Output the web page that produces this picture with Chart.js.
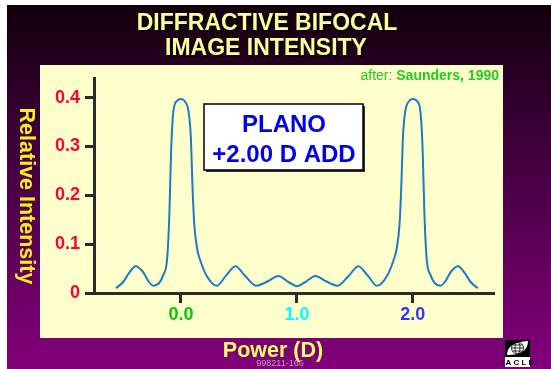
<!DOCTYPE html>
<html>
<head>
<meta charset="utf-8">
<script src="https://cdn.jsdelivr.net/npm/chart.js@4/dist/chart.umd.min.js"></script>
<style>
html,body{margin:0;padding:0;background:#fff;}
#c{display:block;}
</style>
</head>
<body>
<canvas id="c" width="551" height="369"></canvas>
<script>
// ---- data ----
const powerD = [-0.56,-0.50,-0.45,-0.39,-0.33,-0.28,-0.24,-0.19,-0.15,-0.12,-0.10,-0.085,-0.065,-0.035,0.0,0.035,0.065,0.085,0.10,0.115,0.14,0.165,0.22,0.31,0.39,0.47,0.55,0.65,0.75,0.84,0.93,1.0,1.07,1.16,1.25,1.35,1.45,1.53,1.61,1.69,1.78,1.835,1.86,1.885,1.90,1.915,1.935,1.965,2.0,2.035,2.065,2.085,2.10,2.12,2.15,2.19,2.24,2.28,2.33,2.39,2.45,2.50,2.56];
const relIntensity = [0.010,0.022,0.040,0.055,0.044,0.024,0.015,0.020,0.038,0.068,0.160,0.290,0.372,0.393,0.397,0.392,0.372,0.320,0.215,0.140,0.090,0.068,0.036,0.015,0.036,0.055,0.036,0.015,0.024,0.035,0.022,0.014,0.022,0.035,0.024,0.015,0.036,0.055,0.036,0.015,0.036,0.068,0.090,0.140,0.215,0.320,0.372,0.392,0.397,0.393,0.372,0.290,0.160,0.068,0.038,0.020,0.015,0.024,0.044,0.055,0.040,0.022,0.010];
const xTickValues = [0, 1, 2];
const xTickLabels = ['0.0', '1.0', '2.0'];
const yTickValues = [0, 0.1, 0.2, 0.3, 0.4];
const yTickLabels = ['0', '0.1', '0.2', '0.3', '0.4'];
const titleLines = ['DIFFRACTIVE BIFOCAL', 'IMAGE INTENSITY'];
const xAxisTitle = 'Power (D)';
const yAxisTitle = 'Relative Intensity';
const sourceLabel = 'after: ';
const sourceName = 'Saunders, 1990';
const boxLines = ['PLANO', '+2.00 D ADD'];
const slideCode = '998211-166';
const logoText = 'IACLE';

// ---- styles ----
const FONT = "'Liberation Sans', Arial, Helvetica, sans-serif";
const xTickColors = ['#00cc00', '#00ffff', '#3333ff'];
const axisColor = '#2b2b2b';

const points = powerD.map((x, i) => ({ x: x, y: relIntensity[i] }));

const decor = {
  id: 'decor',
  beforeDraw(chart) {
    const ctx = chart.ctx;
    ctx.save();
    ctx.fillStyle = '#ffffff';
    ctx.fillRect(0, 0, 551, 369);
    const g = ctx.createLinearGradient(0, 5, 0, 369);
    g.addColorStop(0, '#12000b');
    g.addColorStop(0.35, '#3a0036');
    g.addColorStop(1, '#82007a');
    ctx.fillStyle = g;
    ctx.fillRect(7, 5, 544, 364);
    // cream panel
    ctx.fillStyle = '#ffffcc';
    ctx.fillRect(40, 65, 463, 273);
    // title
    ctx.font = 'bold 23px ' + FONT;
    ctx.textAlign = 'center';
    ctx.textBaseline = 'alphabetic';
    ctx.shadowColor = 'rgba(0,0,0,0.95)';
    ctx.shadowOffsetX = 2;
    ctx.shadowOffsetY = 2;
    ctx.shadowBlur = 1;
    ctx.fillStyle = '#ffff99';
    ctx.fillText(titleLines[0], 267, 30);
    ctx.fillText(titleLines[1], 266, 55);
    ctx.shadowColor = 'transparent';
    ctx.shadowOffsetX = 0; ctx.shadowOffsetY = 0; ctx.shadowBlur = 0;
    // source label (right aligned)
    ctx.textAlign = 'left';
    ctx.font = 'bold 14px ' + FONT;
    const wName = ctx.measureText(sourceName).width;
    ctx.font = '14px ' + FONT;
    const wLab = ctx.measureText(sourceLabel).width;
    const xr = 499;
    ctx.fillStyle = '#22cc22';
    ctx.fillText(sourceLabel, xr - wName - wLab, 80);
    ctx.font = 'bold 14px ' + FONT;
    ctx.fillText(sourceName, xr - wName, 80);
    // axis titles
    ctx.font = 'bold 21.5px ' + FONT;
    ctx.textAlign = 'center';
    ctx.fillStyle = '#ffff66';
    ctx.fillText(xAxisTitle, 273, 357);
    ctx.save();
    ctx.translate(26, 196);
    ctx.rotate(Math.PI / 2);
    ctx.textBaseline = 'middle';
    ctx.fillStyle = '#ffee22';
    ctx.fillText(yAxisTitle, 0, 0);
    ctx.restore();
    // slide code
    ctx.font = '9px ' + FONT;
    ctx.fillStyle = '#c79ac7';
    ctx.textAlign = 'center';
    ctx.fillText(slideCode, 280, 366);
    // logo
    ctx.fillStyle = '#000000';
    ctx.fillRect(505, 340, 25, 27);
    ctx.fillStyle = '#ffffff';
    ctx.beginPath();
    ctx.moveTo(507, 355);
    ctx.quadraticCurveTo(507, 342, 528, 341);
    ctx.quadraticCurveTo(528, 355, 507, 355);
    ctx.fill();
    ctx.strokeStyle = '#000000';
    ctx.lineWidth = 0.8;
    ctx.beginPath(); ctx.arc(517.5, 348, 6, 0, Math.PI * 2); ctx.stroke();
    ctx.beginPath(); ctx.ellipse(517.5, 348, 2.5, 6, 0, 0, Math.PI * 2); ctx.stroke();
    ctx.beginPath();
    ctx.moveTo(511.5, 348); ctx.lineTo(523.5, 348);
    ctx.moveTo(512.5, 345); ctx.lineTo(522.5, 345);
    ctx.moveTo(512.5, 351); ctx.lineTo(522.5, 351);
    ctx.stroke();
    ctx.fillStyle = '#ffffff';
    ctx.fillRect(505, 357, 25, 10);
    ctx.fillStyle = '#000000';
    ctx.font = 'bold 8px ' + FONT;
    ctx.textAlign = 'center';
    ctx.fillText(logoText.split('').join(' '), 517.5, 365);
    ctx.restore();
  },
  afterDatasetsDraw(chart) {
    const ctx = chart.ctx;
    ctx.save();
    // text box with shadow
    ctx.fillStyle = '#333333';
    ctx.fillRect(206, 106, 159, 66);
    ctx.fillStyle = '#ffffff';
    ctx.fillRect(204, 104, 159, 66);
    ctx.strokeStyle = '#000000';
    ctx.lineWidth = 1.5;
    ctx.strokeRect(204, 104, 159, 66);
    ctx.fillStyle = '#0000ee';
    ctx.font = 'bold 24px ' + FONT;
    ctx.textAlign = 'center';
    ctx.textBaseline = 'alphabetic';
    ctx.fillText(boxLines[0], 284, 132);
    ctx.fillText(boxLines[1], 284, 162);
    ctx.restore();
  }
};

new Chart(document.getElementById('c'), {
  type: 'line',
  data: {
    datasets: [{
      data: points,
      borderColor: '#1a7cc8',
      borderWidth: 2,
      pointRadius: 0,
      fill: false,
      cubicInterpolationMode: 'monotone'
    }]
  },
  options: {
    responsive: false,
    animation: false,
    devicePixelRatio: 1,
    layout: { padding: { left: 0, top: 78, right: 57, bottom: 0 } },
    plugins: { legend: { display: false }, title: { display: false }, tooltip: { enabled: false } },
    scales: {
      x: {
        type: 'linear',
        min: -0.75,
        max: 2.7,
        afterBuildTicks: s => { s.ticks = xTickValues.map(v => ({ value: v })); },
        afterFit: s => { s.height = 76; },
        ticks: {
          autoSkip: false,
          maxRotation: 0,
          padding: 1,
          callback: (v, i) => xTickLabels[i],
          color: c => xTickColors[c.index],
          font: { family: FONT, size: 18, weight: 'bold' }
        },
        grid: { drawOnChartArea: false, drawTicks: true, tickLength: 10, tickWidth: 3, tickColor: axisColor },
        border: { display: true, color: axisColor, width: 3 }
      },
      y: {
        type: 'linear',
        min: 0,
        max: 0.44,
        afterBuildTicks: s => { s.ticks = yTickValues.map(v => ({ value: v })); },
        afterFit: s => { s.width = 94; },
        ticks: {
          autoSkip: false,
          padding: 5,
          callback: (v, i) => yTickLabels[i],
          color: '#ff0033',
          font: { family: FONT, size: 18, weight: 'bold' }
        },
        grid: { drawOnChartArea: false, drawTicks: true, tickLength: 9, tickWidth: 3, tickColor: axisColor },
        border: { display: true, color: axisColor, width: 3 }
      }
    }
  },
  plugins: [decor]
});
</script>
</body>
</html>
